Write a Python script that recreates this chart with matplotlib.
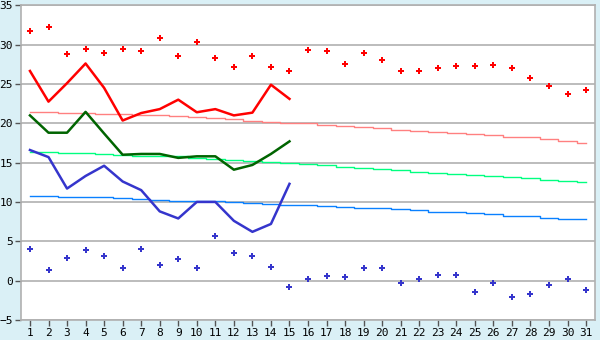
import matplotlib
matplotlib.use("Agg")
import matplotlib.pyplot as plt

# dias do mes
days = list(range(1, 32))

# recordes (pontos)
rec_max = [31.7, 32.3, 28.8, 29.4, 28.9, 29.4, 29.2, 30.8, 28.6, 30.3,
           28.3, 27.1, 28.5, 27.1, 26.6, 29.3, 29.2, 27.5, 28.9, 28.0,
           26.7, 26.6, 27.0, 27.25, 27.25, 27.4, 27.0, 25.7, 24.7, 23.7, 24.2]
rec_min = [4.0, 1.3, 2.85, 3.9, 3.1, 1.6, 4.0, 2.0, 2.7, 1.6,
           5.65, 3.5, 3.1, 1.7, -0.85, 0.17, 0.55, 0.44, 1.6, 1.6,
           -0.3, 0.17, 0.7, 0.7, -1.45, -0.3, -2.1, -1.7, -0.6, 0.17, -1.2]

# observado (15 primeiros dias)
obs_days = days[:15]
obs_max = [26.65, 22.75, 25.1, 27.6, 24.5, 20.35, 21.3, 21.8, 23.0, 21.4,
           21.8, 21.0, 21.35, 24.9, 23.1]
obs_mean = [21.0, 18.8, 18.8, 21.45, 18.7, 16.0, 16.1, 16.1, 15.6, 15.8,
            15.8, 14.1, 14.7, 16.1, 17.7]
obs_min = [16.6, 15.7, 11.7, 13.3, 14.6, 12.6, 11.5, 8.8, 7.9, 10.0,
           10.0, 7.6, 6.2, 7.2, 12.3]

# normais
norm_max = [21.4, 21.4, 21.3, 21.3, 21.2, 21.15, 21.0, 21.0, 20.9, 20.8,
            20.65, 20.5, 20.35, 20.2, 20.05, 20.0, 19.8, 19.65, 19.5, 19.4,
            19.15, 19.0, 18.9, 18.75, 18.6, 18.45, 18.3, 18.2, 18.0, 17.75, 17.5]
norm_mean = [16.3, 16.3, 16.2, 16.2, 16.1, 16.0, 15.9, 15.8, 15.8, 15.6,
             15.45, 15.3, 15.2, 15.05, 14.9, 14.8, 14.7, 14.5, 14.3, 14.2,
             14.0, 13.85, 13.7, 13.6, 13.45, 13.35, 13.2, 13.1, 12.85, 12.7, 12.55]
norm_min = [10.75, 10.75, 10.65, 10.6, 10.6, 10.5, 10.35, 10.25, 10.1, 10.1,
            10.1, 10.0, 9.85, 9.75, 9.6, 9.6, 9.5, 9.35, 9.25, 9.2,
            9.1, 9.0, 8.75, 8.7, 8.6, 8.45, 8.25, 8.2, 8.0, 7.8, 7.8]

yticks = list(range(-5, 36, 5))

fig = plt.figure(figsize=(6, 3.4), dpi=100, facecolor="#daf0f6")
ax = fig.add_axes([0.0345, 0.059, 0.9577, 0.9255])
ax.set_facecolor("white")

grid_c = "#b0b0b0"
for y in yticks:
    ax.axhline(y, color=grid_c, lw=1.2, zorder=0)

ax.plot(days, norm_max, color="#ff8080", lw=1.0, drawstyle="steps-mid", zorder=2)
ax.plot(days, norm_mean, color="#00ff80", lw=1.0, drawstyle="steps-mid", zorder=2)
ax.plot(days, norm_min, color="#0a80ff", lw=1.0, drawstyle="steps-mid", zorder=2)

ax.plot(obs_days, obs_max, color="#ff0000", lw=1.8, zorder=3)
ax.plot(obs_days, obs_mean, color="#006400", lw=1.8, zorder=3)
ax.plot(obs_days, obs_min, color="#3535cc", lw=1.8, zorder=3)

ax.plot(days, rec_max, ls="none", marker="P", ms=4.5, color="#ff0000", mew=0, zorder=4)
ax.plot(days, rec_min, ls="none", marker="P", ms=4.5, color="#3535cc", mew=0, zorder=4)

ax.set_xlim(0.5, 31.5)
ax.set_ylim(-5, 35)
ax.set_xticks(days)
ax.set_yticks(yticks)
for s in ax.spines.values():
    s.set_color(grid_c)
    s.set_linewidth(1.2)
ax.tick_params(axis="both", colors="#000000", labelsize=8, length=4,
               width=1, color="#555555", pad=1.5)
for lab in ax.get_xticklabels() + ax.get_yticklabels():
    lab.set_family("DejaVu Sans Mono")

fig.savefig("out.png", dpi=100, facecolor=fig.get_facecolor())
